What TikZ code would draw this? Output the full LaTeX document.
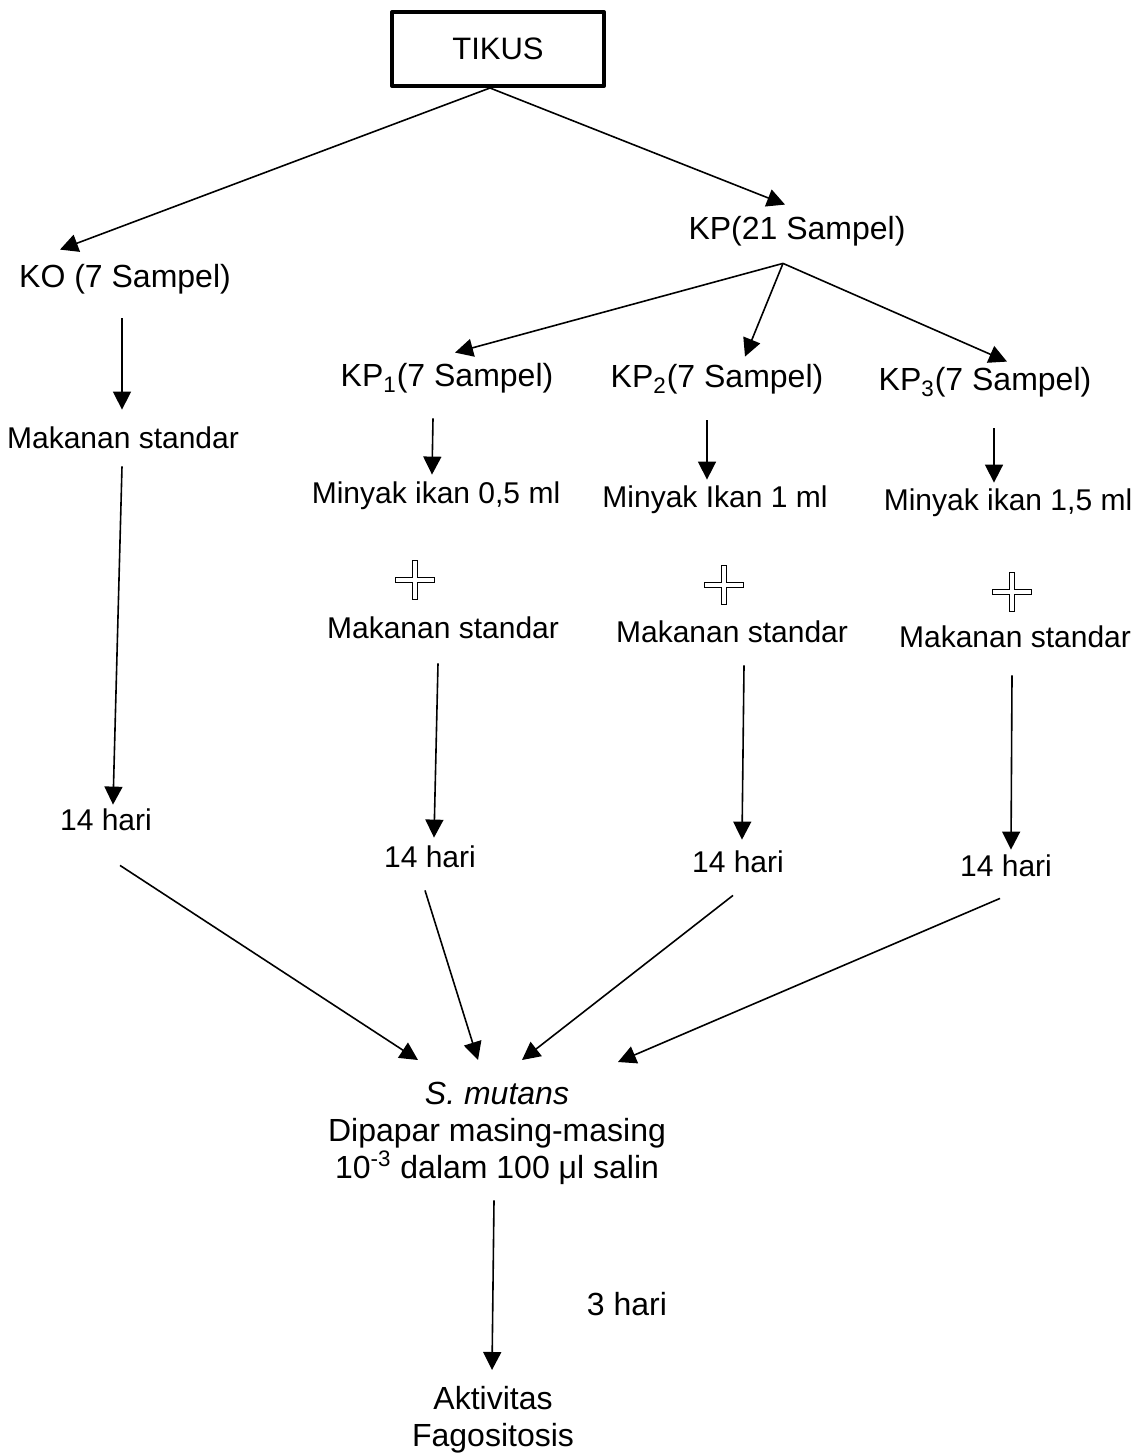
\documentclass[tikz,border=0pt]{standalone}
\usepackage{fontspec}
\setmainfont{Liberation Sans}
\usetikzlibrary{arrows.meta,calc}
\begin{document}
\begin{tikzpicture}[x=0.5pt,y=-0.5pt,line join=round,
		font=\fontsize{15}{18.5}\selectfont,
		arr/.style={-{Triangle[length=9pt,width=9pt]},line width=0.8pt},
		txt/.style={inner sep=0pt,text height=11pt,text depth=3pt},
		big/.style={font=\fontsize{16}{18.5}\selectfont}]
	\useasboundingbox (0,0) rectangle (1143,1454);
	\node[draw,line width=2pt,minimum width=106pt,minimum height=37pt,font=\fontsize{15.5}{18}\selectfont] (tikus) at (498,49) {TIKUS};
	\node[txt,big] (ko) at (125,280) {KO (7 Sampel)};
	\node[txt,big] (kp) at (797,232) {KP(21 Sampel)};
	\node[txt,big] (kp1) at (447,379) {KP\textsubscript{1}(7 Sampel)};
	\node[txt,big] (kp2) at (717,380) {KP\textsubscript{2}(7 Sampel)};
	\node[txt,big] (kp3) at (985,383) {KP\textsubscript{3}(7 Sampel)};
	\node[txt] (mk0) at (123,440) {Makanan standar};
	\node[txt] (mi1) at (436,495) {Minyak ikan 0,5 ml};
	\node[txt] (mi2) at (715,499) {Minyak Ikan 1 ml};
	\node[txt] (mi3) at (1008,502) {Minyak ikan 1,5 ml};
	\node[txt] (mk1) at (443,630) {Makanan standar};
	\node[txt] (mk2) at (732,634) {Makanan standar};
	\node[txt] (mk3) at (1015,639) {Makanan standar};
	\node[txt] (h0) at (106,822) {14 hari};
	\node[txt] (h1) at (430,859) {14 hari};
	\node[txt] (h2) at (738,864) {14 hari};
	\node[txt] (h3) at (1006,868) {14 hari};
	\node[big,inner sep=0pt,align=center,anchor=north] (smut) at (497,1082)
		{\itshape S. mutans\\Dipapar masing-masing\\10\textsuperscript{-3} dalam 100 μl salin};
	\node[txt,big] (hari3) at (627,1307) {3 hari};
	\node[big,inner sep=0pt,align=center,anchor=north] (akt) at (493,1386) {Aktivitas\\Fagositosis};
	\coordinate (fork) at ($(kp.south)+(-14,17)$);

	\draw[arr] ($(tikus.south)+(-8,0)$) -- ($(ko.north)+(-65,-16)$);
	\draw[arr] ($(tikus.south)+(-8,0)$) -- ($(kp.north)+(-12,-13)$);
	\draw[arr] (fork) -- ($(kp1.north)+(8,-12)$);
	\draw[arr] (fork) -- ($(kp2.north)+(28,-9)$);
	\draw[arr] (fork) -- ($(kp3.north)+(22,-7)$);

	\draw[arr] ($(ko.south)+(-3,24)$) -- ($(mk0.north)+(-1,-16)$);
	\draw[arr] ($(mk0.south)+(-1,12)$) -- ($(h0.north)+(7,-3)$);
	\draw[arr] ($(kp1.south)+(-14,25)$) -- ($(mi1.north)+(-4,-6)$);
	\draw[arr] ($(kp2.south)+(-10,26)$) -- ($(mi2.north)+(-8,-5)$);
	\draw[arr] ($(kp3.south)+(9,31)$) -- ($(mi3.north)+(-14,-5)$);

	\foreach \p in {(415,580),(724,585),(1012,592)}{
		\draw[line width=2.7pt] \p ++(-20,0) -- ++(40,0) \p ++(0,-20) -- ++(0,40);
		\draw[white,line width=1.6pt] \p ++(-19,0) -- ++(38,0) \p ++(0,-19) -- ++(0,38);
	}

	\draw[arr] ($(mk1.south)+(-5,19)$) -- ($(h1.north)+(4,-7)$);
	\draw[arr] ($(mk2.south)+(12,17)$) -- ($(h2.north)+(4,-10)$);
	\draw[arr] ($(mk3.south)+(-3,22)$) -- ($(h3.north)+(5,-4)$);

	\draw[arr] ($(h0.south)+(14,29)$) -- ($(smut.north)+(-79,-22)$);
	\draw[arr] ($(h1.south)+(-5,17)$) -- ($(smut.north)+(-19,-22)$);
	\draw[arr] ($(h2.south)+(-5,17)$) -- ($(smut.north)+(25,-22)$);
	\draw[arr] ($(h3.south)+(-6,16)$) -- ($(smut.north)+(121,-20)$);
	\draw[arr] ($(smut.south)+(-3,15)$) -- ($(akt.north)+(-1,-16)$);
\end{tikzpicture}
\end{document}
